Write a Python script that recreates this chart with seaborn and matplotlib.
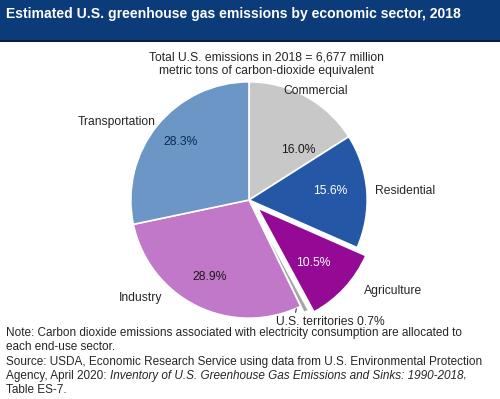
import matplotlib
matplotlib.use('Agg')

import matplotlib.pyplot as plt
import seaborn as sns
from matplotlib.patches import Rectangle

# -------------------------------
# Data
# -------------------------------
sectors = ["Commercial", "Residential", "Agriculture", "U.S. territories", "Industry", "Transportation"]
shares = [16.0, 15.6, 10.5, 0.7, 28.9, 28.3]
colors = ["#c8c8c8", "#2457a5", "#950a95", "#a6a6a6", "#c278c8", "#6b96c6"]
explode = [0, 0, 0.1, 0.06, 0, 0]
pct_colors = ["#1a1a1a", "white", "white", "white", "#1a1a1a", "#0b2a55"]

sns.set_style("white")
plt.rcParams['font.family'] = 'sans-serif'
plt.rcParams['font.sans-serif'] = ['Liberation Sans', 'DejaVu Sans']

fig = plt.figure(figsize=(5, 3.99), dpi=100)
H = 399.0
lab_fs = 8.7

# title bar
fig.patches.append(Rectangle((0, 1 - 40 / H), 1, 40 / H, transform=fig.transFigure,
                             facecolor="#0b3b78", edgecolor="none", zorder=0))
fig.patches.append(Rectangle((0, 1 - 42 / H), 1, 2 / H, transform=fig.transFigure,
                             facecolor="#0a1f3f", edgecolor="none", zorder=0))
fig.text(0.012, 1 - 14 / H, "Estimated U.S. greenhouse gas emissions by economic sector, 2018",
         color="white", fontsize=10.1, fontweight="bold", va="center", ha="left")

fig.text(0.533, 1 - 57 / H, "Total U.S. emissions in 2018 = 6,677 million",
         fontsize=lab_fs, ha="center", va="center")
fig.text(0.533, 1 - 71 / H, "metric tons of carbon-dioxide equivalent",
         fontsize=lab_fs, ha="center", va="center")

# -------------------------------
# Pie
# -------------------------------
ax = fig.add_axes([119 / 500, 69 / H, 260 / 500, 260 / H])
wedges, texts, autotexts = ax.pie(
    shares,
    colors=colors,
    explode=explode,
    startangle=90,
    counterclock=False,
    autopct="%1.1f%%",
    pctdistance=0.6,
    wedgeprops=dict(edgecolor="white", linewidth=1.2),
    textprops=dict(fontsize=lab_fs),
)
ax.set_xlim(-1.1, 1.1)
ax.set_ylim(-1.1, 1.1)
ax.set_aspect("equal")
ax.axis("off")

# percent labels placed like the original
pct_pos = [(0.42, 0.42), (0.69, 0.08), (0.54, -0.53), None, (-0.33, -0.65), (-0.58, 0.49)]
for t, pos, c in zip(autotexts, pct_pos, pct_colors):
    if pos is None:
        t.set_visible(False)
    else:
        t.set_position(pos)
        t.set_color(c)

# sector labels
name_pos = {
    "Commercial": (0.56, 0.92),
    "Residential": (1.32, 0.08),
    "Agriculture": (1.22, -0.77),
    "Industry": (-0.92, -0.83),
    "Transportation": (-1.12, 0.66),
}
for name, (x, y) in name_pos.items():
    ax.text(x, y, name, fontsize=lab_fs, ha="center", va="center")

ax.annotate(f"U.S. territories {shares[3]}%", xy=(0.4, -0.92), xytext=(0.69, -1.03),
            fontsize=lab_fs, ha="center", va="center",
            arrowprops=dict(arrowstyle="-", color="#333333", lw=0.8,
                            connectionstyle="angle,angleA=0,angleB=80", shrinkA=0, shrinkB=0))

# -------------------------------
# Footer
# -------------------------------
fs = 8.5
x0 = 0.012
fig.text(x0, 1 - 333 / H, "Note: Carbon dioxide emissions associated with electricity consumption are allocated to",
         fontsize=fs, va="center")
fig.text(x0, 1 - 347 / H, "each end-use sector.", fontsize=fs, va="center")
fig.text(x0, 1 - 362 / H, "Source: USDA, Economic Research Service using data from U.S. Environmental Protection",
         fontsize=fs, va="center")
fig.text(x0, 1 - 390 / H, "Table ES-7.", fontsize=fs, va="center")

# line with italic title, chained piece by piece
renderer = fig.canvas.get_renderer()
x = x0
for piece, style in [("Agency, April 2020: ", "normal"),
                     ("Inventory of U.S. Greenhouse Gas Emissions and Sinks: 1990-2018", "italic"),
                     (",", "normal")]:
    t = fig.text(x, 1 - 376 / H, piece, fontsize=fs, va="center", style=style)
    bb = t.get_window_extent(renderer)
    x = fig.transFigure.inverted().transform((bb.x1, bb.y1))[0]

fig.savefig("out.png", dpi=100)
